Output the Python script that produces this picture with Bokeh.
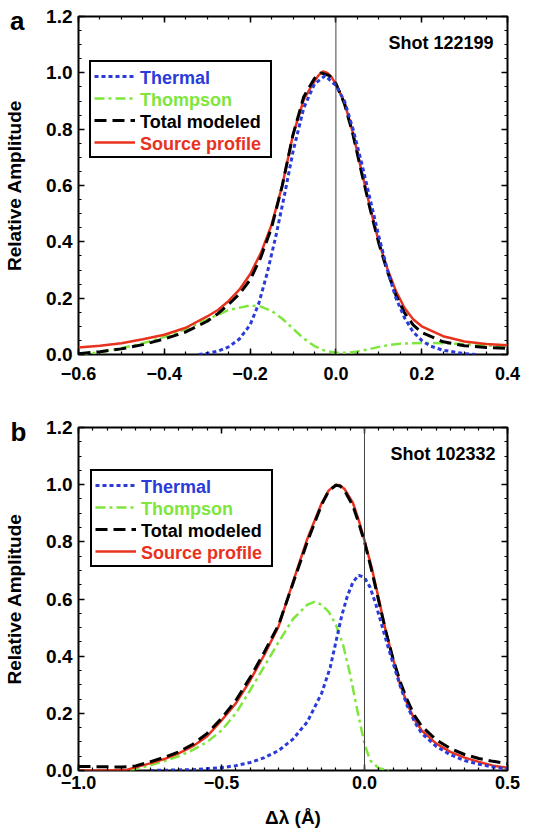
import numpy as np
from bokeh.plotting import figure
from bokeh.layouts import column
from bokeh.models import (Range1d, LinearAxis, FixedTicker, Span, Label, Legend,
                          LegendItem, CustomJSTickFormatter)
from bokeh.embed import file_html
from bokeh.resources import INLINE

FONT = "Liberation Sans"
BLUE = "#2a3bd9"
GREEN = "#7ee63c"
BLACK = "#000000"
RED = "#e8321e"

series_names = ["Thermal", "Thompson", "Total modeled", "Source profile"]

# ---------------- Panel a : Shot 122199 ----------------
shot_a = "Shot 122199"
red_x_a = [-0.6, -0.55, -0.5, -0.45, -0.4, -0.35, -0.3, -0.275, -0.25, -0.225, -0.2, -0.175,
           -0.15, -0.125, -0.1, -0.075, -0.06, -0.05, -0.04, -0.03, -0.02, -0.01, 0.0, 0.02,
           0.04, 0.06, 0.08, 0.1, 0.12, 0.14, 0.16, 0.18, 0.2, 0.25, 0.3, 0.35, 0.4]
red_y_a = [0.025, 0.031, 0.04, 0.054, 0.07, 0.095, 0.135, 0.158, 0.19, 0.23, 0.285, 0.36,
           0.46, 0.6, 0.78, 0.905, 0.945, 0.97, 0.992, 1.005, 1.0, 0.985, 0.96, 0.895,
           0.785, 0.65, 0.52, 0.4, 0.305, 0.225, 0.165, 0.125, 0.1, 0.065, 0.046, 0.037, 0.033]
black_x_a = [-0.6, -0.55, -0.5, -0.45, -0.4, -0.35, -0.3, -0.275, -0.25, -0.225, -0.2, -0.175,
             -0.15, -0.125, -0.1, -0.075, -0.05, -0.035, -0.015, 0.0, 0.02, 0.04, 0.06, 0.08,
             0.1, 0.12, 0.14, 0.16, 0.18, 0.2, 0.25, 0.3, 0.35, 0.4]
black_y_a = [0.003, 0.01, 0.02, 0.035, 0.055, 0.08, 0.118, 0.145, 0.178, 0.215, 0.265, 0.345,
             0.45, 0.6, 0.78, 0.915, 0.98, 1.0, 0.99, 0.962, 0.89, 0.78, 0.645, 0.515,
             0.395, 0.295, 0.21, 0.148, 0.105, 0.078, 0.045, 0.031, 0.025, 0.022]
blue_x_a = [-0.32, -0.3, -0.275, -0.25, -0.225, -0.2, -0.18, -0.16, -0.14, -0.12, -0.1, -0.075,
            -0.05, -0.025, 0.0, 0.02, 0.04, 0.06, 0.08, 0.1, 0.12, 0.14, 0.16, 0.18, 0.2, 0.22,
            0.25, 0.3, 0.33]
blue_y_a = [0.0, 0.004, 0.012, 0.027, 0.055, 0.105, 0.18, 0.29, 0.42, 0.565, 0.72, 0.875,
            0.96, 0.99, 0.955, 0.9, 0.8, 0.68, 0.55, 0.42, 0.3, 0.2, 0.13, 0.08, 0.05, 0.03,
            0.015, 0.003, 0.0]
green_x_a = [-0.6, -0.55, -0.5, -0.45, -0.4, -0.35, -0.3, -0.25, -0.2, -0.175, -0.15, -0.125,
             -0.1, -0.075, -0.05, -0.025, 0.0, 0.025, 0.05, 0.075, 0.1, 0.125, 0.15, 0.2, 0.25,
             0.3, 0.35, 0.4]
green_y_a = [0.0, 0.008, 0.022, 0.04, 0.062, 0.09, 0.124, 0.158, 0.174, 0.17, 0.155, 0.127,
             0.092, 0.057, 0.03, 0.013, 0.006, 0.006, 0.011, 0.018, 0.027, 0.034, 0.038, 0.041,
             0.04, 0.037, 0.032, 0.027]
x_ticks_a = [-0.6, -0.4, -0.2, 0.0, 0.2, 0.4]
x_labels_a = ["\u22120.6", "\u22120.4", "\u22120.2", "0.0", "0.2", "0.4"]

# ---------------- Panel b : Shot 102332 ----------------
shot_b = "Shot 102332"
red_x_b = [-1.0, -0.9, -0.83, -0.75, -0.7, -0.65, -0.6, -0.55, -0.5, -0.45, -0.4, -0.35, -0.3,
           -0.25, -0.2, -0.15, -0.125, -0.1, -0.085, -0.07, -0.04, -0.02, 0.0, 0.025, 0.05, 0.075,
           0.1, 0.125, 0.15, 0.175, 0.2, 0.25, 0.3, 0.35, 0.4, 0.45, 0.5]
red_y_b = [0.0, 0.0, 0.003, 0.025, 0.04, 0.06, 0.085, 0.12, 0.175, 0.235, 0.315, 0.405, 0.505,
           0.66, 0.81, 0.935, 0.98, 1.0, 0.997, 0.985, 0.935, 0.875, 0.805, 0.71, 0.6, 0.485,
           0.39, 0.3, 0.232, 0.178, 0.14, 0.095, 0.065, 0.045, 0.03, 0.017, 0.01]
black_x_b = [-1.0, -0.9, -0.85, -0.8, -0.75, -0.7, -0.65, -0.6, -0.55, -0.5, -0.45, -0.4, -0.35,
             -0.3, -0.25, -0.2, -0.15, -0.125, -0.1, -0.085, -0.07, -0.04, -0.02, 0.0, 0.025, 0.05,
             0.075, 0.1, 0.125, 0.15, 0.175, 0.2, 0.25, 0.3, 0.35, 0.4, 0.45, 0.5]
black_y_b = [0.014, 0.013, 0.012, 0.016, 0.03, 0.046, 0.065, 0.092, 0.13, 0.182, 0.245, 0.325,
             0.415, 0.51, 0.655, 0.8, 0.93, 0.978, 0.998, 0.995, 0.98, 0.925, 0.865, 0.8, 0.7,
             0.592, 0.485, 0.39, 0.31, 0.245, 0.192, 0.155, 0.108, 0.077, 0.056, 0.042, 0.032, 0.024]
blue_x_b = [-0.75, -0.6, -0.5, -0.45, -0.4, -0.35, -0.3, -0.25, -0.2, -0.15, -0.12, -0.1, -0.08,
            -0.06, -0.04, -0.02, 0.0, 0.02, 0.04, 0.06, 0.08, 0.1, 0.125, 0.15, 0.175, 0.2, 0.25,
            0.3, 0.35, 0.4, 0.45, 0.5]
blue_y_b = [0.0, 0.003, 0.01, 0.017, 0.028, 0.045, 0.07, 0.11, 0.17, 0.27, 0.36, 0.45, 0.54,
            0.61, 0.66, 0.683, 0.675, 0.64, 0.58, 0.51, 0.44, 0.375, 0.295, 0.225, 0.17, 0.13,
            0.085, 0.055, 0.035, 0.022, 0.012, 0.006]
green_x_b = [-0.82, -0.75, -0.7, -0.65, -0.6, -0.55, -0.5, -0.45, -0.4, -0.35, -0.3, -0.25, -0.2,
             -0.175, -0.15, -0.125, -0.1, -0.075, -0.05, -0.025, 0.0, 0.02, 0.05, 0.085]
green_y_b = [0.0, 0.018, 0.033, 0.05, 0.072, 0.1, 0.14, 0.2, 0.28, 0.365, 0.45, 0.53, 0.58,
             0.59, 0.58, 0.555, 0.51, 0.44, 0.335, 0.21, 0.093, 0.035, 0.008, 0.0]
x_ticks_b = [-1.0, -0.5, 0.0, 0.5]
x_labels_b = ["\u22121.0", "\u22120.5", "0.0", "0.5"]

y_ticks = [0.0, 0.2, 0.4, 0.6, 0.8, 1.0, 1.2]
y_labels = ["0.0", "0.2", "0.4", "0.6", "0.8", "1.0", "1.2"]


def style_axis(ax, ticker, labels=None, hidden=False):
    ax.ticker = ticker
    ax.axis_line_color = None
    ax.major_tick_in = 6
    ax.major_tick_out = 0
    ax.minor_tick_in = 3
    ax.minor_tick_out = 0
    ax.major_tick_line_color = "black"
    ax.minor_tick_line_color = "black"
    ax.major_tick_line_width = 1.5
    ax.minor_tick_line_width = 1.2
    ax.major_label_text_font = FONT
    ax.major_label_text_font_style = "bold"
    ax.major_label_text_color = "black"
    if hidden:
        ax.formatter = CustomJSTickFormatter(code="return ''")
        ax.major_label_text_font_size = "0px"
        ax.major_label_standoff = 0
    elif labels is not None:
        ax.major_label_overrides = {t: l for t, l in zip(ticker.ticks, labels)}


def make_panel(letter, letter_y, letter_shift, shot, xr, x_ticks, x_labels, x_minor, series,
               width, height, bl, br, bt, bb, x_standoff, leg_left, leg_top, show_xlabel):
    p = figure(width=width, height=height, x_range=Range1d(*xr), y_range=Range1d(0, 1.2),
               toolbar_location=None, output_backend="svg",
               min_border_left=bl, min_border_right=br, min_border_top=bt, min_border_bottom=bb)
    p.grid.visible = False
    p.outline_line_color = "black"
    p.outline_line_width = 2
    p.background_fill_color = "white"

    xt = FixedTicker(ticks=x_ticks, minor_ticks=x_minor)
    yt = FixedTicker(ticks=y_ticks, minor_ticks=[round(0.05 * i, 2) for i in range(25)])

    style_axis(p.xaxis[0], xt, x_labels)
    p.xaxis[0].major_label_text_font_size = "18px"
    p.xaxis[0].major_label_standoff = x_standoff
    style_axis(p.yaxis[0], yt, y_labels)
    p.yaxis[0].major_label_text_font_size = "19px"
    p.yaxis[0].major_label_standoff = 6
    p.yaxis[0].axis_label = "Relative Amplitude"
    p.yaxis[0].axis_label_text_font = FONT
    p.yaxis[0].axis_label_text_font_style = "bold"
    p.yaxis[0].axis_label_text_font_size = "19px"
    p.yaxis[0].axis_label_text_color = "black"
    p.yaxis[0].axis_label_standoff = 18
    if show_xlabel:
        p.xaxis[0].axis_label = "\u0394\u03bb (\u00c5)"
        p.xaxis[0].axis_label_text_font = FONT
        p.xaxis[0].axis_label_text_font_style = "bold"
        p.xaxis[0].axis_label_text_font_size = "19px"
        p.xaxis[0].axis_label_text_color = "black"
        p.xaxis[0].axis_label_standoff = 15

    top_ax = LinearAxis()
    style_axis(top_ax, xt, hidden=True)
    p.add_layout(top_ax, "above")
    right_ax = LinearAxis()
    style_axis(right_ax, yt, hidden=True)
    p.add_layout(right_ax, "right")

    # panel letter, drawn as the single label of an outer, line-less left axis
    let_ax = LinearAxis(ticker=FixedTicker(ticks=[letter_y], minor_ticks=[]),
                        major_label_overrides={letter_y: letter})
    let_ax.axis_line_color = None
    let_ax.major_tick_in = 0
    let_ax.major_tick_out = 0
    let_ax.minor_tick_in = 0
    let_ax.minor_tick_out = 0
    let_ax.major_label_standoff = -letter_shift
    let_ax.major_label_text_font = FONT
    let_ax.major_label_text_font_style = "bold"
    let_ax.major_label_text_font_size = "26px"
    let_ax.major_label_text_color = "black"
    p.add_layout(let_ax, "left")

    p.add_layout(Span(location=0, dimension="height", line_color="#444444", line_width=1))

    (bx, by), (gx, gy), (kx, ky), (rx, ry) = series
    r_green = p.line(gx, gy, line_color=GREEN, line_width=2.5, line_dash="10 4 3 4")
    r_red = p.line(rx, ry, line_color=RED, line_width=2.5)
    r_black = p.line(kx, ky, line_color=BLACK, line_width=3, line_dash="12 6")
    r_blue = p.line(bx, by, line_color=BLUE, line_width=3, line_dash="4 3")
    renderers = [r_blue, r_green, r_black, r_red]
    colors = [BLUE, GREEN, BLACK, RED]

    frame_h = height - bt - bb
    pad, row_h, n = 3, 22, 4
    leg_h = 2 * pad + n * row_h
    box = Legend(items=[LegendItem(label=" ", renderers=[r]) for r in renderers],
                 location=(leg_left, frame_h - leg_top - leg_h),
                 padding=pad, spacing=0, margin=0,
                 glyph_width=41, glyph_height=row_h, label_height=row_h,
                 label_width=127, label_standoff=5, label_text_font_size="8px",
                 border_line_color="black", border_line_width=2, border_line_alpha=1.0,
                 background_fill_color="white", background_fill_alpha=1.0)
    p.add_layout(box)

    text_x = leg_left + pad + 41 + 7
    for i, (name, c, r) in enumerate(zip(series_names, colors, renderers)):
        row_center = leg_top + pad + row_h * i + row_h / 2
        txt = Legend(items=[LegendItem(label=name, renderers=[r])],
                     location=(text_x, frame_h - row_center - row_h / 2),
                     padding=0, spacing=0, margin=0,
                     glyph_width=0, glyph_height=row_h, label_height=row_h,
                     label_standoff=0, label_text_font=FONT, label_text_font_style="bold",
                     label_text_font_size="18px", label_text_color=c,
                     border_line_color=None, background_fill_alpha=0.0)
        p.add_layout(txt)

    p.add_layout(Label(x=width - bl - br - 14, y=frame_h - 26, x_units="screen", y_units="screen",
                       text=shot, text_color="black", text_font=FONT, text_font_style="bold",
                       text_font_size="18px", text_baseline="middle", text_align="right"))
    return p


minor_a = [round(-0.6 + 0.05 * i, 2) for i in range(21)]
minor_b = [round(-1.0 + 0.05 * i, 2) for i in range(31)]

pa = make_panel("a", 1.185, 23, shot_a, (-0.6, 0.4), x_ticks_a, x_labels_a, minor_a,
                [(blue_x_a, blue_y_a), (green_x_a, green_y_a), (black_x_a, black_y_a), (red_x_a, red_y_a)],
                542, 390, 78, 35, 16, 36, 12, 11, 48, False)
pb = make_panel("b", 1.185, 25, shot_b, (-1.0, 0.5), x_ticks_b, x_labels_b, minor_b,
                [(blue_x_b, blue_y_b), (green_x_b, green_y_b), (black_x_b, black_y_b), (red_x_b, red_y_b)],
                542, 440, 77, 34, 37, 60, 5, 12, 46, True)

layout = column(pa, pb, spacing=0)
open("out.html", "w").write(file_html(layout, INLINE))
